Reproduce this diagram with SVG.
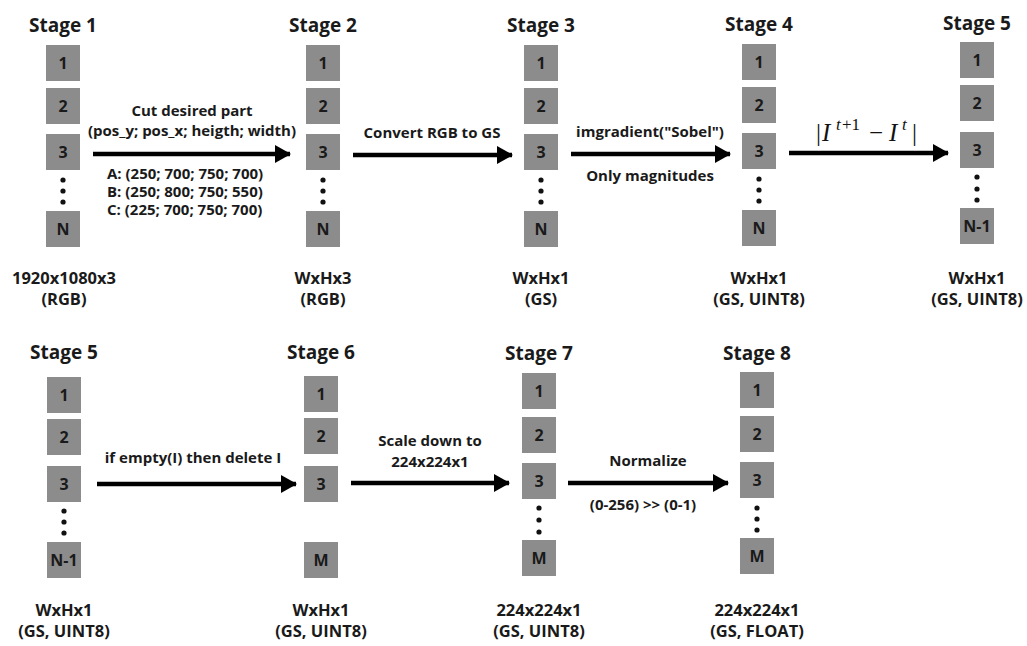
<svg xmlns="http://www.w3.org/2000/svg" width="1027" height="646" viewBox="0 0 1027 646">
<defs>
<style>
text{font-family:"Open Sans","Liberation Sans",sans-serif;font-weight:700;fill:#1a1a1a;text-anchor:middle}
.t{font-size:19px}
.n{font-size:16px}
.l{font-size:16.5px}
.a{font-size:15px}
.b{fill:#8c8c8c}
.d{fill:#111}
.ln{stroke:#000;stroke-width:4.5;fill:none}
.m{font-family:"Liberation Serif","DejaVu Serif",serif;font-weight:400;font-size:25px;text-anchor:start;fill:#111}
.mi{font-style:italic}
.sup{font-size:17px}
</style>
<marker id="ah" markerUnits="userSpaceOnUse" markerWidth="16" markerHeight="18" refX="15" refY="9" orient="auto">
<path d="M0,0 L16,9 L0,18 Z" fill="#000"/>
</marker>
</defs>
<rect width="1027" height="646" fill="#fff"/>

<g id="stage1">
<text class="t" x="63" y="32">Stage 1</text>
<rect class="b" x="46" y="45" width="34" height="36"/><text class="n" x="63" y="69">1</text>
<rect class="b" x="46" y="88" width="34" height="36"/><text class="n" x="63" y="112">2</text>
<rect class="b" x="46" y="134" width="34" height="36"/><text class="n" x="63" y="158">3</text>
<circle class="d" cx="63" cy="180" r="2.6"/><circle class="d" cx="63" cy="191" r="2.6"/><circle class="d" cx="63" cy="202" r="2.6"/>
<rect class="b" x="46" y="211" width="34" height="36"/><text class="n" x="63" y="235">N</text>
<text class="l" x="64" y="284">1920x1080x3</text>
<text class="l" x="64" y="305">(RGB)</text>
</g>

<g id="stage2">
<text class="t" x="323" y="32">Stage 2</text>
<rect class="b" x="306" y="45" width="34" height="36"/><text class="n" x="323" y="69">1</text>
<rect class="b" x="306" y="88" width="34" height="36"/><text class="n" x="323" y="112">2</text>
<rect class="b" x="306" y="134" width="34" height="36"/><text class="n" x="323" y="158">3</text>
<circle class="d" cx="323" cy="180" r="2.6"/><circle class="d" cx="323" cy="191" r="2.6"/><circle class="d" cx="323" cy="202" r="2.6"/>
<rect class="b" x="306" y="211" width="34" height="36"/><text class="n" x="323" y="235">N</text>
<text class="l" x="323" y="284">WxHx3</text>
<text class="l" x="323" y="305">(RGB)</text>
</g>

<g id="stage3">
<text class="t" x="541" y="32">Stage 3</text>
<rect class="b" x="524" y="45" width="34" height="36"/><text class="n" x="541" y="69">1</text>
<rect class="b" x="524" y="88" width="34" height="36"/><text class="n" x="541" y="112">2</text>
<rect class="b" x="524" y="134" width="34" height="36"/><text class="n" x="541" y="158">3</text>
<circle class="d" cx="541" cy="180" r="2.6"/><circle class="d" cx="541" cy="191" r="2.6"/><circle class="d" cx="541" cy="202" r="2.6"/>
<rect class="b" x="524" y="211" width="34" height="36"/><text class="n" x="541" y="235">N</text>
<text class="l" x="541" y="284">WxHx1</text>
<text class="l" x="541" y="305">(GS)</text>
</g>

<g id="stage4">
<text class="t" x="759" y="31">Stage 4</text>
<rect class="b" x="742" y="44" width="34" height="36"/><text class="n" x="759" y="68">1</text>
<rect class="b" x="742" y="87" width="34" height="36"/><text class="n" x="759" y="111">2</text>
<rect class="b" x="742" y="133" width="34" height="36"/><text class="n" x="759" y="157">3</text>
<circle class="d" cx="759" cy="179" r="2.6"/><circle class="d" cx="759" cy="190" r="2.6"/><circle class="d" cx="759" cy="201" r="2.6"/>
<rect class="b" x="742" y="210" width="34" height="36"/><text class="n" x="759" y="234">N</text>
<text class="l" x="759" y="284">WxHx1</text>
<text class="l" x="759" y="305">(GS, UINT8)</text>
</g>

<g id="stage5a">
<text class="t" x="977" y="30">Stage 5</text>
<rect class="b" x="960" y="42" width="34" height="36"/><text class="n" x="977" y="66">1</text>
<rect class="b" x="960" y="85" width="34" height="36"/><text class="n" x="977" y="109">2</text>
<rect class="b" x="960" y="132" width="34" height="36"/><text class="n" x="977" y="156">3</text>
<circle class="d" cx="977" cy="177" r="2.6"/><circle class="d" cx="977" cy="189" r="2.6"/><circle class="d" cx="977" cy="200" r="2.6"/>
<rect class="b" x="960" y="208" width="34" height="36"/><text class="n" x="977" y="232">N-1</text>
<text class="l" x="977" y="284">WxHx1</text>
<text class="l" x="977" y="305">(GS, UINT8)</text>
</g>

<g id="stage5b">
<text class="t" x="64" y="359">Stage 5</text>
<rect class="b" x="47" y="377" width="34" height="36"/><text class="n" x="64" y="401">1</text>
<rect class="b" x="47" y="419" width="34" height="36"/><text class="n" x="64" y="443">2</text>
<rect class="b" x="47" y="466" width="34" height="36"/><text class="n" x="64" y="490">3</text>
<circle class="d" cx="64" cy="511" r="2.6"/><circle class="d" cx="64" cy="522" r="2.6"/><circle class="d" cx="64" cy="533" r="2.6"/>
<rect class="b" x="47" y="542" width="34" height="36"/><text class="n" x="64" y="566">N-1</text>
<text class="l" x="64" y="616">WxHx1</text>
<text class="l" x="64" y="637">(GS, UINT8)</text>
</g>

<g id="stage6">
<text class="t" x="321" y="359">Stage 6</text>
<rect class="b" x="304" y="376" width="34" height="36"/><text class="n" x="321" y="400">1</text>
<rect class="b" x="304" y="418" width="34" height="36"/><text class="n" x="321" y="442">2</text>
<rect class="b" x="304" y="466" width="34" height="36"/><text class="n" x="321" y="490">3</text>
<rect class="b" x="304" y="542" width="34" height="36"/><text class="n" x="321" y="566">M</text>
<text class="l" x="321" y="616">WxHx1</text>
<text class="l" x="321" y="637">(GS, UINT8)</text>
</g>

<g id="stage7">
<text class="t" x="539" y="360">Stage 7</text>
<rect class="b" x="522" y="373" width="34" height="36"/><text class="n" x="539" y="397">1</text>
<rect class="b" x="522" y="417" width="34" height="36"/><text class="n" x="539" y="441">2</text>
<rect class="b" x="522" y="463" width="34" height="36"/><text class="n" x="539" y="487">3</text>
<circle class="d" cx="539" cy="508" r="2.6"/><circle class="d" cx="539" cy="520" r="2.6"/><circle class="d" cx="539" cy="532" r="2.6"/>
<rect class="b" x="522" y="540" width="34" height="36"/><text class="n" x="539" y="564">M</text>
<text class="l" x="539" y="616">224x224x1</text>
<text class="l" x="539" y="637">(GS, UINT8)</text>
</g>

<g id="stage8">
<text class="t" x="757" y="360">Stage 8</text>
<rect class="b" x="740" y="372" width="34" height="36"/><text class="n" x="757" y="396">1</text>
<rect class="b" x="740" y="416" width="34" height="36"/><text class="n" x="757" y="440">2</text>
<rect class="b" x="740" y="462" width="34" height="36"/><text class="n" x="757" y="486">3</text>
<circle class="d" cx="757" cy="508" r="2.6"/><circle class="d" cx="757" cy="519" r="2.6"/><circle class="d" cx="757" cy="530" r="2.6"/>
<rect class="b" x="740" y="538" width="34" height="36"/><text class="n" x="757" y="562">M</text>
<text class="l" x="757" y="616">224x224x1</text>
<text class="l" x="757" y="637">(GS, FLOAT)</text>
</g>

<g id="connectors">
<line class="ln" x1="93" y1="154" x2="290" y2="154" marker-end="url(#ah)"/>
<text class="a" x="192" y="116">Cut desired part</text>
<text class="a" x="192" y="136">(pos_y; pos_x; heigth; width)</text>
<text class="a" x="107" y="179" style="text-anchor:start">A: (250; 700; 750; 700)</text>
<text class="a" x="107" y="197" style="text-anchor:start">B: (250; 800; 750; 550)</text>
<text class="a" x="107" y="215" style="text-anchor:start">C: (225; 700; 750; 700)</text>

<line class="ln" x1="353" y1="155" x2="512" y2="155" marker-end="url(#ah)"/>
<text class="a" x="432" y="138">Convert RGB to GS</text>

<line class="ln" x1="571" y1="154" x2="730" y2="154" marker-end="url(#ah)"/>
<text class="a" x="650" y="137">imgradient("Sobel")</text>
<text class="a" x="650" y="181">Only magnitudes</text>

<line class="ln" x1="789" y1="153" x2="948" y2="153" marker-end="url(#ah)"/>
<text class="m" y="141"><tspan x="816">|</tspan><tspan class="mi" x="822">I</tspan><tspan class="sup mi" x="836" y="130">t</tspan><tspan class="sup" x="842" y="130">+1</tspan><tspan x="869" y="141">−</tspan><tspan class="mi" x="889">I</tspan><tspan class="sup mi" x="902" y="130">t</tspan><tspan x="912" y="141">|</tspan></text>

<line class="ln" x1="97" y1="484" x2="296" y2="484" marker-end="url(#ah)"/>
<text class="a" x="193" y="463">if empty(I) then delete I</text>

<line class="ln" x1="351" y1="483" x2="509" y2="483" marker-end="url(#ah)"/>
<text class="a" x="430" y="446">Scale down to</text>
<text class="a" x="430" y="467">224x224x1</text>

<line class="ln" x1="568" y1="483" x2="728" y2="483" marker-end="url(#ah)"/>
<text class="a" x="648" y="466">Normalize</text>
<text class="a" x="643" y="510">(0-256) &gt;&gt; (0-1)</text>
</g>
</svg>
